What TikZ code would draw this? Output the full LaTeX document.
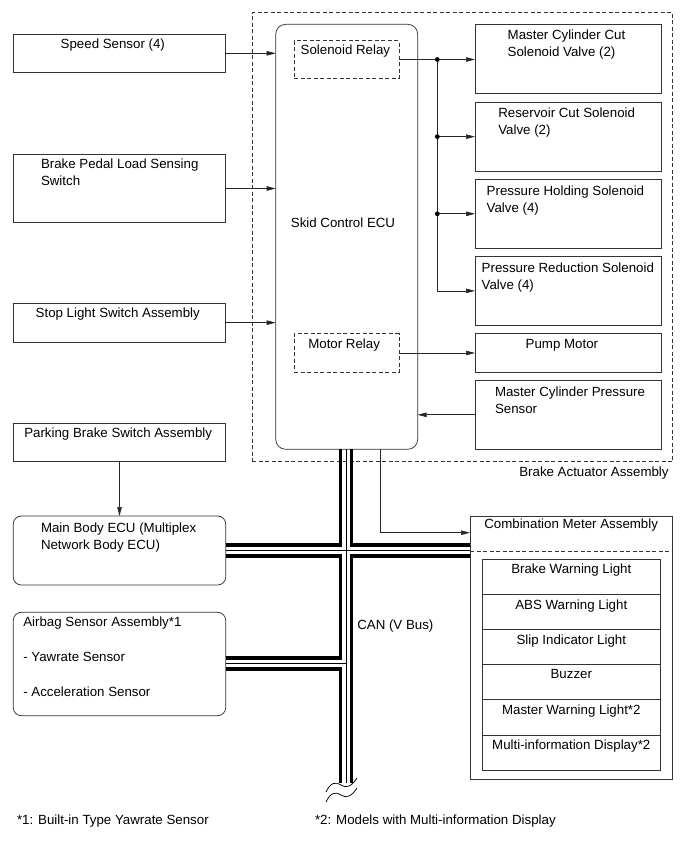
\documentclass[tikz,border=0pt]{standalone}
\usepackage{fontspec}
\setmainfont{Liberation Sans}
\usetikzlibrary{arrows.meta}
\newcommand\fs{\fontsize{13.3}{17}\selectfont}
\begin{document}
\begin{tikzpicture}[x=1pt,y=-1pt,
  box/.style={draw=black!80, line width=0.75pt, inner sep=0pt, outer sep=0pt, anchor=north west},
  rbox/.style={box, rounded corners=8pt},
  dbox/.style={box, dash pattern=on 4pt off 2.5pt},
  txt/.style={inner sep=0pt, outer sep=0pt, anchor=north west, align=left, font=\fs},
  arr/.style={draw=black!85, line width=0.7pt, -{Triangle[length=9pt,width=4.5pt]}},
  wire/.style={draw=black!85, line width=0.7pt},
  bus/.style={line width=3.4pt, line join=miter, line cap=butt},
  busthin/.style={line width=0.8pt},
]
\useasboundingbox (0,0) rectangle (690,854);
\fill[white] (0,0) rectangle (690,854);

% outer dashed brake actuator box
\node[dbox, minimum width=420.4pt, minimum height=449pt] (act) at (252.3,12.7) {};
\node[txt] (tact) at (519.3,466.7) {Brake Actuator Assembly};

% left boxes
\node[box, minimum width=212.4pt, minimum height=38pt] (ss) at (13.3,34.3) {};
\node[txt] (tss) at (60.7,39.3) {Speed Sensor (4)};
\node[box, minimum width=212.4pt, minimum height=68.4pt] (bp) at (13.3,154.3) {};
\node[txt] (tbp) at (41,158.7) {Brake Pedal Load Sensing\\Switch};
\node[box, minimum width=212.4pt, minimum height=38.7pt] (sl) at (13.3,303.3) {};
\node[txt] (tsl) at (35.7,308.3) {Stop Light Switch Assembly};
\node[box, minimum width=212.4pt, minimum height=38pt] (pb) at (13.3,423) {};
\node[txt] (tpb) at (24.3,427.7) {Parking Brake Switch Assembly};
\node[rbox, minimum width=212.4pt, minimum height=69pt] (mb) at (13.3,516) {};
\node[txt] (tmb) at (41,522.7) {Main Body ECU (Multiplex\\Network Body ECU)};
\node[rbox, minimum width=212.4pt, minimum height=103.4pt] (ab) at (13.3,612.3) {};
\node[txt] (tab) at (23.3,616.7) {Airbag Sensor Assembly*1\\[18pt]- Yawrate Sensor\\[18pt]- Acceleration Sensor};

% ECU
\node[box, rounded corners=10pt, minimum width=142pt, minimum height=425pt] (ecu) at (275.7,24.3) {};
\node[txt, anchor=north] (tecu) at (343,218) {Skid Control ECU};
\node[dbox, minimum width=104.7pt, minimum height=37.6pt] (sr) at (294.3,40.7) {};
\node[txt] (tsr) at (300.7,45) {Solenoid Relay};
\node[dbox, minimum width=104.7pt, minimum height=38.6pt] (mr) at (294.3,333.7) {};
\node[txt] (tmr) at (308.3,339.3) {Motor Relay};

% right boxes
\node[box, minimum width=186pt, minimum height=69pt] (mcc) at (475,24.3) {};
\node[txt] (tmcc) at (507.7,30) {Master Cylinder Cut\\Solenoid Valve (2)};
\node[box, minimum width=186pt, minimum height=68.7pt] (rc) at (475,102.3) {};
\node[txt] (trc) at (498.3,107.7) {Reservoir Cut Solenoid\\Valve (2)};
\node[box, minimum width=186pt, minimum height=69pt] (ph) at (475,179.3) {};
\node[txt] (tph) at (486.7,185.7) {Pressure Holding Solenoid\\Valve (4)};
\node[box, minimum width=186pt, minimum height=69.7pt] (pr) at (475,256) {};
\node[txt] (tpr) at (481.7,262.7) {Pressure Reduction Solenoid\\Valve (4)};
\node[box, minimum width=186pt, minimum height=38.6pt] (pm) at (475,333.7) {};
\node[txt] (tpm) at (525.7,339.3) {Pump Motor};
\node[box, minimum width=186pt, minimum height=69pt] (mcps) at (475,380.3) {};
\node[txt] (tmcps) at (495,386.7) {Master Cylinder Pressure\\Sensor};

% combination meter
\node[box, minimum width=202.7pt, minimum height=263.3pt] (cm) at (470,516) {};
\node[txt] (tcm) at (484.3,519.3) {Combination Meter Assembly};
\coordinate (sep) at (0,551);
\draw[draw=black!80, line width=0.75pt, dash pattern=on 4pt off 2.5pt] (cm.west |- sep) -- (cm.east |- sep);
\foreach \i/\t in {0/Brake Warning Light,1/ABS Warning Light,2/Slip Indicator Light,3/Buzzer,4/Master Warning Light*2,5/Multi-information Display*2}{
  \node[box, minimum width=177.3pt, minimum height=35.12pt] (row\i) at (482.7,{559.3+35.12*\i}) {};
  \node[txt, anchor=north] (rowt\i) at (571.3,{564.3+35.12*\i}) {\t};
}

% input arrows
\draw[arr] (ss.east) -- (ss.east -| ecu.west);
\draw[arr] (bp.east) -- (bp.east -| ecu.west);
\draw[arr] (sl.east) -- (sl.east -| ecu.west);
\draw[arr] (pb.south) -- (mb.north);

% solenoid relay outputs
\coordinate (j) at (437.3,0);
\draw[arr] (sr.east) -- (sr.east -| mcc.west);
\draw[wire] (j |- sr.east) -- (j |- pr.west);
\draw[arr] (j |- pr.west) -- (pr.west);
\draw[arr] (j |- rc.west) -- (rc.west);
\draw[arr] (j |- ph.west) -- (ph.west);
\fill (j |- sr.east) circle (2.4pt);
\fill (j |- rc.west) circle (2.4pt);
\fill (j |- ph.west) circle (2.4pt);

\draw[arr] (mr.east) -- (mr.east -| pm.west);
\draw[arr] (mcps.west) -- (mcps.west -| ecu.east);

% ECU to combination meter
\coordinate (c1) at (380.7,532.7);
\draw[arr] (ecu.south -| c1) -- (c1) -- (c1 -| cm.west);

% CAN bus
\coordinate (vL) at (340.5,0);
\coordinate (vM) at (346,0);
\coordinate (vR) at (351.5,0);
\coordinate (h1T) at (0,545);
\coordinate (h1M) at (0,550.5);
\coordinate (h1B) at (0,556);
\coordinate (h2T) at (0,658);
\coordinate (h2M) at (0,663.5);
\coordinate (h2B) at (0,669);
\coordinate (bend) at (0,783);
\draw[bus] (ecu.south -| vL) -- (vL |- h1T) -- (mb.east |- h1T);
\draw[bus] (ecu.south -| vR) -- (vR |- h1T) -- (cm.west |- h1T);
\draw[bus] (mb.east |- h1B) -- (vL |- h1B) -- (vL |- h2T) -- (ab.east |- h2T);
\draw[bus] (cm.west |- h1B) -- (vR |- h1B) -- (vR |- bend);
\draw[bus] (ab.east |- h2B) -- (vL |- h2B) -- (vL |- bend);
\draw[busthin] (ecu.south -| vM) -- (vM |- bend);
\draw[busthin] (mb.east |- h1M) -- (cm.west |- h1M);
\draw[busthin] (ab.east |- h2M) -- (vM |- h2M);
\node[txt] (tcan) at (357.3,620) {CAN (V Bus)};

% break mark
\coordinate (w1) at (326,792);
\coordinate (w2) at (326,802);
\draw[line width=0.75pt] (w1) .. controls +(4,-9) and +(-5,-4) .. +(15,-7) .. controls +(5,4) and +(-5,8) .. +(31,-14);
\draw[line width=0.75pt] (w2) .. controls +(4,-9) and +(-5,-4) .. +(15,-7) .. controls +(5,4) and +(-5,8) .. +(31,-14);

% footnotes
\node[txt] (fn1) at (17,815) {*1: Built-in Type Yawrate Sensor};
\node[txt] (fn2) at (315,815) {*2: Models with Multi-information Display};
\end{tikzpicture}
\end{document}
